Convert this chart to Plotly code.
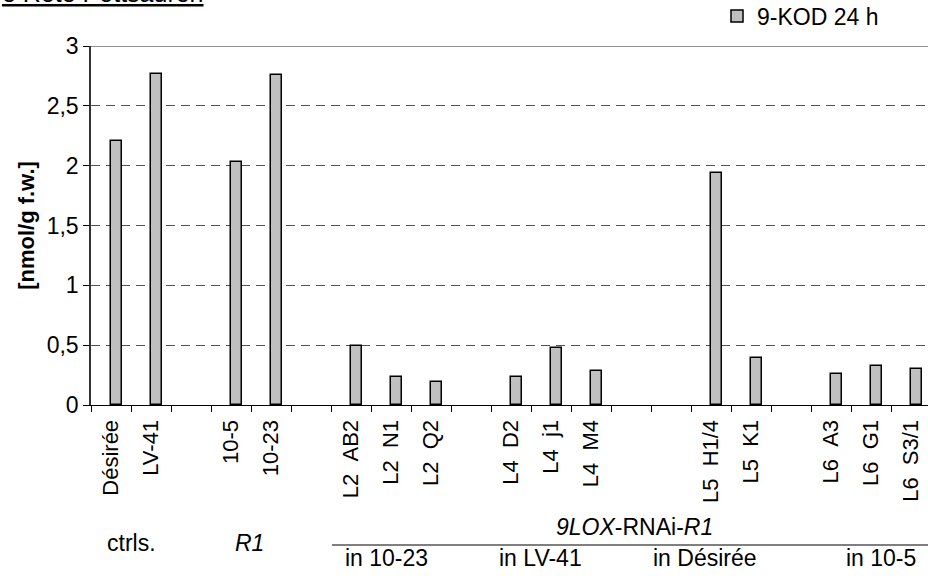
import plotly.graph_objects as go

# Lines / controls on the x axis; blank entries are spacer slots between groups
categories = [
    "Désirée", "LV-41", " ",
    "10-5", "10-23", "  ",
    "L2\u00a0\u00a0AB2", "L2\u00a0\u00a0N1", "L2\u00a0\u00a0Q2", "   ",
    "L4\u00a0\u00a0D2", "L4\u00a0\u00a0j1", "L4\u00a0\u00a0M4", "    ", "     ",
    "L5\u00a0\u00a0H1/4", "L5\u00a0\u00a0K1", "      ",
    "L6\u00a0\u00a0A3", "L6\u00a0\u00a0G1", "L6\u00a0\u00a0S3/1",
]
kod_24h = [
    2.21, 2.77, None,
    2.03, 2.76, None,
    0.49, 0.23, 0.19, None,
    0.23, 0.48, 0.28, None, None,
    1.94, 0.39, None,
    0.26, 0.33, 0.30,
]
series_name = "9-KOD 24 h"
y_ticks = [0, 0.5, 1, 1.5, 2, 2.5, 3]
y_ticktext = ["0", "0,5", "1", "1,5", "2", "2,5", "3"]

FONT = "Liberation Sans, Arial, sans-serif"
FS = 23      # horizontal texts
FS_X = 22    # rotated category labels
W, H = 928, 576
ML, MT, MB = 91, 46, 171
PW = W - ML
PH = H - MT - MB


def px_x(p):
    return (p - ML) / PW


def px_y(p):
    return 1 + (MT - p) / PH


def label(text, cx, cy, **kw):
    d = dict(text=text, x=px_x(cx), y=px_y(cy), xref="paper", yref="paper",
             xanchor="center", yanchor="middle", showarrow=False,
             font=dict(size=FS, family=FONT, color="black"))
    d.update(kw)
    return d


fig = go.Figure()
fig.add_trace(go.Bar(
    x=categories, y=kod_24h, name=series_name,
    width=0.2857, offset=0,
    marker=dict(color="#c0c0c0", line=dict(color="black", width=1.5)),
    showlegend=True,
))

annotations = [
    dict(text="<u>e Rote Pottsauren</u>", x=0, y=px_y(9), xref="paper", yref="paper",
         xanchor="left", yanchor="bottom", showarrow=False, xshift=-ML,
         font=dict(size=25, family=FONT, color="black")),
    label("ctrls.", 131, 543),
    label("<i>R1</i>", 249, 543),
    label("<i>9LOX</i>-RNAi-<i>R1</i>", 634, 527),
]
for text, cx in [("in 10-23", 386), ("in LV-41", 540), ("in Désirée", 705), ("in 10-5", 881)]:
    annotations.append(label(text, cx, 558))

shapes = [
    dict(type="line", xref="paper", yref="y", x0=0, x1=1, y0=3, y1=3,
         line=dict(color="#222", width=1.2)),
    dict(type="line", xref="paper", yref="paper", x0=px_x(332), x1=1.01,
         y0=px_y(545), y1=px_y(545), line=dict(color="black", width=1.2)),
]

fig.update_layout(
    width=W, height=H,
    margin=dict(l=ML, r=0, t=MT, b=MB, pad=0, autoexpand=False),
    paper_bgcolor="white", plot_bgcolor="white",
    font=dict(family=FONT, size=FS, color="black"),
    bargap=0,
    legend=dict(x=px_x(717), y=px_y(16), xanchor="left", yanchor="middle",
                font=dict(size=FS, family=FONT), bgcolor="rgba(0,0,0,0)",
                itemclick=False),
    annotations=annotations,
    shapes=shapes,
    xaxis=dict(
        type="category", categoryorder="array", categoryarray=categories,
        range=[-0.5, 20.425], tickson="boundaries", ticks="outside", ticklen=6,
        tickcolor="black", tickangle=-90, showline=True, linecolor="black",
        linewidth=1.2, showgrid=False, tickfont=dict(size=FS_X, family=FONT),
        ticklabelstandoff=5, automargin=False, fixedrange=True,
    ),
    yaxis=dict(
        range=[0, 3], tickmode="array", tickvals=y_ticks, ticktext=y_ticktext,
        ticks="outside", ticklen=6, tickcolor="black", showline=True,
        linecolor="#333", linewidth=1.5, showgrid=True, gridcolor="#555",
        griddash="9px,6px", gridwidth=1, zeroline=False,
        tickfont=dict(size=FS, family=FONT), automargin=False,
        title=dict(text="<b>[nmol/g f.w.]</b>", font=dict(size=22, family=FONT), standoff=6),
        fixedrange=True,
    ),
)

fig.write_html("out.html")
